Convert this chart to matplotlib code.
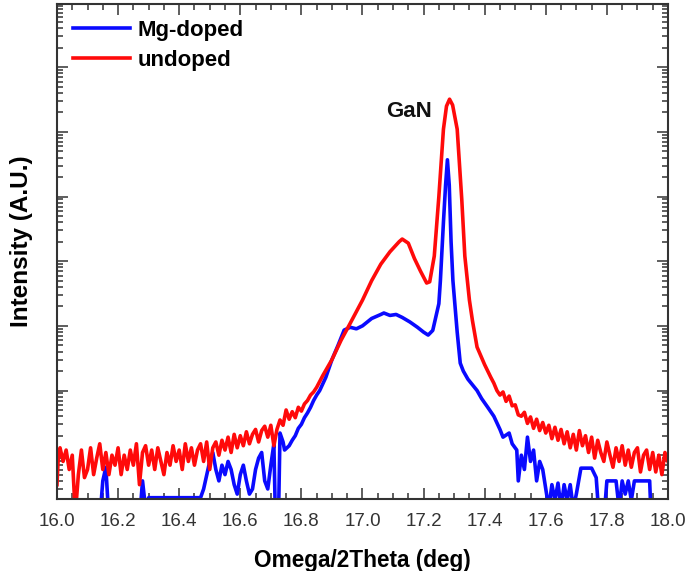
import numpy as np
import matplotlib
matplotlib.use("Agg")
import matplotlib.pyplot as plt
from matplotlib.ticker import MultipleLocator, LogLocator, NullFormatter, FormatStrFormatter

plt.rcParams["font.family"] = ["Liberation Sans", "DejaVu Sans"]

# ── undoped (red) ──────────────────────────────────────────────────────────
undoped_x = [
    16.00, 16.005, 16.01, 16.02, 16.03, 16.04, 16.05, 16.06, 16.07, 16.08, 16.09,
    16.10, 16.11, 16.12, 16.13, 16.14, 16.15, 16.16, 16.17, 16.18, 16.19,
    16.20, 16.21, 16.22, 16.23, 16.24, 16.25, 16.26, 16.27, 16.28, 16.29,
    16.30, 16.31, 16.32, 16.33, 16.34, 16.35, 16.36, 16.37, 16.38, 16.39,
    16.40, 16.41, 16.42, 16.43, 16.44, 16.45, 16.46, 16.47, 16.48, 16.49,
    16.50, 16.51, 16.52, 16.53, 16.54, 16.55, 16.56, 16.57, 16.58, 16.59,
    16.60, 16.61, 16.62, 16.63, 16.64, 16.65, 16.66, 16.67, 16.68, 16.69,
    16.70, 16.71, 16.72, 16.73, 16.74, 16.75, 16.76, 16.77, 16.78, 16.79,
    16.80, 16.81, 16.82, 16.83, 16.84, 16.85, 16.87, 16.90, 16.93, 16.96,
    17.00, 17.03, 17.06, 17.09, 17.12, 17.13, 17.15, 17.17, 17.19, 17.21,
    17.22, 17.235, 17.25, 17.265, 17.275, 17.285, 17.295, 17.31, 17.325, 17.335,
    17.35, 17.36, 17.375, 17.40, 17.42, 17.43, 17.44, 17.45,
    17.46, 17.47, 17.48, 17.49, 17.50, 17.51, 17.52, 17.53, 17.54, 17.55,
    17.56, 17.57, 17.58, 17.59, 17.60, 17.61, 17.62, 17.63, 17.64, 17.65,
    17.66, 17.67, 17.68, 17.69, 17.70, 17.71, 17.72, 17.73, 17.74, 17.75,
    17.76, 17.77, 17.78, 17.79, 17.80, 17.81, 17.82, 17.83, 17.84, 17.85,
    17.86, 17.87, 17.88, 17.89, 17.90, 17.91, 17.92, 17.93, 17.94, 17.95,
    17.96, 17.97, 17.98, 17.99, 18.00,
]
undoped_y = [
    3.5, 11, 13, 8, 12, 6, 10, 1.2, 5, 12, 4.5,
    6, 13, 5, 9, 15, 6, 11, 5, 10, 7,
    13, 5, 10, 6, 12, 7, 15, 3.5, 11, 14,
    7, 12, 6, 13, 8, 5, 11, 7, 14, 8,
    12, 6, 15, 8, 13, 7, 12, 15, 8, 16,
    6, 13, 16, 10, 17, 12, 19, 11, 21, 13,
    20, 14, 23, 15, 21, 25, 16, 24, 28, 19,
    29, 14, 25, 35, 29, 50, 36, 47, 38, 55,
    48, 62, 70, 85, 95, 112, 170, 300, 600, 1100,
    2500, 5000, 9000, 14000, 20000, 22000, 19000, 11000, 7000, 4600,
    4800, 12000, 1.0e5, 1.1e6, 2.5e6, 3.2e6, 2.6e6, 1.1e6, 9.0e4, 1.2e4,
    2500, 1200, 470, 250, 160, 130, 100, 85,
    95, 68, 82, 58, 60, 42, 40, 46, 31, 39,
    26, 36, 24, 32, 22, 29, 18, 27, 17, 25,
    15, 23, 13, 21, 12, 24, 14, 20, 11, 19,
    9, 17, 11, 8, 16, 10, 6.5, 13, 8, 14,
    7, 12, 6.5, 11, 13, 5.5, 10, 12, 6, 11,
    5.5, 10, 5, 11, 8,
]

# ── Mg-doped (blue) ────────────────────────────────────────────────────────
mg_x = [
    16.00, 16.14, 16.15, 16.16, 16.17, 16.27, 16.28, 16.29, 16.30, 16.45,
    16.47, 16.48, 16.50, 16.51, 16.52, 16.53, 16.54, 16.55, 16.56, 16.57,
    16.58, 16.59, 16.60, 16.61, 16.62, 16.63, 16.64, 16.65, 16.66, 16.67,
    16.68, 16.69, 16.70, 16.71, 16.715, 16.725, 16.73, 16.74, 16.745, 16.76,
    16.77, 16.78, 16.79, 16.80, 16.81, 16.82, 16.83, 16.84, 16.85, 16.86,
    16.88, 16.90, 16.92, 16.94, 16.96, 16.98, 17.00, 17.03, 17.06, 17.07,
    17.09, 17.11, 17.13, 17.155, 17.18, 17.20, 17.215, 17.23, 17.25, 17.255,
    17.265, 17.272, 17.278, 17.284, 17.29, 17.296, 17.31, 17.32, 17.33, 17.345,
    17.375, 17.39, 17.41, 17.43, 17.45, 17.46, 17.48, 17.49, 17.505, 17.51,
    17.52, 17.53, 17.54, 17.55, 17.56, 17.57, 17.58, 17.59, 17.60, 17.61,
    17.62, 17.63, 17.64, 17.65, 17.66, 17.67, 17.68, 17.69, 17.70, 17.715,
    17.735, 17.75, 17.765, 17.775, 17.79, 17.80, 17.83, 17.84, 17.85, 17.86,
    17.87, 17.88, 17.89, 17.93, 17.94, 17.945, 18.00,
]
mg_y = [
    1.0, 1.0, 4, 6.5, 1.0, 1.0, 4, 1.5, 2.2, 2.2,
    2.2, 3, 8, 11, 6, 4, 7, 5, 8, 6,
    3.5, 2.5, 5, 7, 4, 2.5, 3, 6, 9, 11,
    4, 3, 7, 15, 1.0, 1.0, 22, 16, 12, 14,
    17, 20, 26, 30, 38, 45, 55, 70, 85, 100,
    160, 300, 500, 860, 950, 900, 1000, 1300, 1500, 1580,
    1450, 1500, 1350, 1150, 950, 800, 720, 850, 2200, 5000,
    40000, 1.5e5, 3.7e5, 1.5e5, 2.0e4, 5000, 800, 265, 200, 150,
    100, 75, 55, 40, 25, 19, 22, 15, 12, 4,
    10, 6, 19, 8, 12, 4, 8, 6, 3, 1.5,
    3.5, 2, 3.7, 1.5, 3.5, 2, 3.5, 1.5, 2.5, 6.3,
    6.3, 6.3, 4.5, 1.0, 1.0, 4, 4, 1.5, 4, 2.5,
    4, 2, 4, 4, 4, 1.0, 1.0,
]

fig = plt.figure(figsize=(6.89, 5.71), dpi=100)
ax = fig.add_axes([0.0827, 0.1261, 0.8868, 0.8669])

ax.plot(mg_x, mg_y, color="#0a0aff", linewidth=2.6, label="Mg-doped")
ax.plot(undoped_x, undoped_y, color="#ff0a0a", linewidth=2.6, label="undoped")

ax.set_yscale("log")
ax.set_xlim(16.0, 18.0)
ax.set_ylim(2.1, 9.5e7)

ax.xaxis.set_major_locator(MultipleLocator(0.2))
ax.xaxis.set_minor_locator(MultipleLocator(0.05))
ax.xaxis.set_major_formatter(FormatStrFormatter("%.1f"))
ax.yaxis.set_major_locator(LogLocator(base=10, numticks=20))
ax.yaxis.set_minor_locator(LogLocator(base=10, subs=np.arange(2, 10), numticks=20))
ax.yaxis.set_major_formatter(NullFormatter())
ax.yaxis.set_minor_formatter(NullFormatter())

ax.tick_params(which="both", direction="in", top=True, right=True,
               color="#333333", width=1.1)
ax.tick_params(which="major", length=8, labelsize=13.5, pad=10, labelcolor="#333333")
ax.tick_params(which="minor", length=4.5)
for sp in ax.spines.values():
    sp.set_color("#333333")
    sp.set_linewidth(1.5)

ax.set_xlabel("Omega/2Theta (deg)", fontsize=16.3, fontweight="bold", labelpad=14)
ax.set_ylabel("Intensity (A.U.)", fontsize=17.5, fontweight="bold")
ax.yaxis.set_label_coords(-0.039, 0.52)

ax.text(17.152, 2.1e6, "GaN", fontsize=16, fontweight="bold",
        ha="center", va="center", color="#111111")

ax.legend(loc="upper left", frameon=False, handlelength=2.6, handletextpad=0.32,
          labelspacing=0.42, borderaxespad=0.4, borderpad=0.3,
          prop={"weight": "bold", "size": 16})

fig.savefig("out.png", dpi=100)
